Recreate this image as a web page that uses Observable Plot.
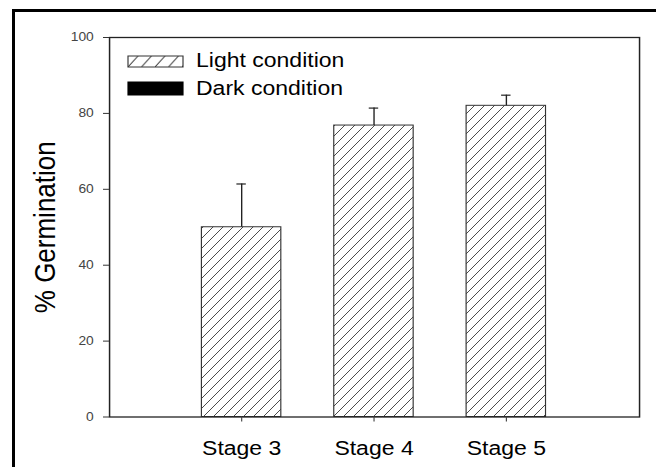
<!DOCTYPE html>
<html>
<head>
<meta charset="utf-8">
<script src="https://cdn.jsdelivr.net/npm/d3@7"></script>
<script src="https://cdn.jsdelivr.net/npm/@observablehq/plot@0.6"></script>
<style>
  body { margin: 0; background: #fff; }
  #wrap { position: relative; width: 656px; height: 467px; overflow: hidden; font-family: "Liberation Sans", Arial, sans-serif; }
  #wrap svg { display: block; }
  #border { position: absolute; left: 12px; top: 9px; width: 700px; height: 500px; border-left: 3px solid #000; border-top: 3px solid #000; pointer-events: none; }
</style>
</head>
<body>
<div id="wrap"><div id="border"></div></div>
<script>
// ---- data ----
const stages = ["Stage 3", "Stage 4", "Stage 5"];
const lightMean = [50.0, 76.8, 82.0];
const lightErr = [11.4, 4.6, 2.8];
const legendLabels = ["Light condition", "Dark condition"];
const yTicks = [0, 20, 40, 60, 80, 100];
const yLabel = "% Germination";

// ---- layout (drawn at a narrower width, then stretched horizontally like the source image) ----
const W0 = 570, H = 467, WOUT = 656;
const S = WOUT / W0;

const data = stages.map((s, i) => ({
  stage: s, mean: lightMean[i], err: lightErr[i], top: lightMean[i] + lightErr[i]
}));

const chart = Plot.plot({
  width: W0,
  height: H,
  marginLeft: 94.7,
  marginRight: 14.8,
  marginTop: 37,
  marginBottom: 50.5,
  style: { fontFamily: "'Liberation Sans', Arial, sans-serif", background: "white", color: "#000" },
  x: { domain: stages, paddingInner: 0.396, paddingOuter: 0.70, label: null },
  y: { domain: [0, 100], ticks: yTicks, label: null },
  marks: [
    Plot.barY(data, { x: "stage", y: "mean", fill: "url(#hatch)", stroke: "#333", strokeWidth: 1 }),
    Plot.ruleX(data, { x: "stage", y1: "mean", y2: "top", stroke: "#222", strokeWidth: 1.2 }),
    Plot.tickY(data, { x: "stage", y: "top", insetLeft: 30.4, insetRight: 30.4, stroke: "#222", strokeWidth: 1.2 }),
    Plot.frame({ stroke: "#222", strokeWidth: 1.3 }),
    Plot.axisY({ ticks: yTicks, tickSize: 5.2, tickPadding: 8.5, fontSize: 12, fill: "#444", stroke: "#333", label: null }),
    Plot.axisX({ tickSize: 5, tickPadding: 19, fontSize: 20, fill: "#000", stroke: "#444", label: null }),
    Plot.text([yLabel], { text: d => d, frameAnchor: "left", textAnchor: "middle", lineAnchor: "middle", dx: -55.6, rotate: -90, fontSize: 26, fill: "#000" })
  ]
});

const svg = d3.select(chart);
svg.attr("width", WOUT).attr("preserveAspectRatio", "none");

const defs = svg.insert("defs", ":first-child");
const pw = 10 / S, ph = 10;
defs.append("pattern")
  .attr("id", "hatch").attr("patternUnits", "userSpaceOnUse")
  .attr("width", pw).attr("height", ph)
  .append("path")
  .attr("d", `M0,${ph}L${pw},0M${-pw/4},${ph/4}L${pw/4},${-ph/4}M${3*pw/4},${5*ph/4}L${5*pw/4},${3*ph/4}`)
  .attr("stroke", "#3a3a3a").attr("stroke-width", 0.85).attr("fill", "none");

// ---- legend ----
const lgX = 128 / S, lgW = 55 / S, lgTextX = 196 / S;
const rowY = [56, 82], rowH = [11, 13], textY = [67.5, 95.5];
defs.append("pattern")
  .attr("id", "hatchLegend").attr("patternUnits", "userSpaceOnUse")
  .attr("x", lgX).attr("y", rowY[0])
  .attr("width", 13.5 / S).attr("height", rowH[0])
  .append("path")
  .attr("d", `M0,${rowH[0]}L${10 / S},0`)
  .attr("stroke", "#3a3a3a").attr("stroke-width", 0.9).attr("fill", "none");

const lg = svg.append("g").attr("class", "legend").attr("text-anchor", "start");
legendLabels.forEach((lab, i) => {
  lg.append("rect")
    .attr("x", lgX).attr("y", rowY[i]).attr("width", lgW).attr("height", rowH[i])
    .attr("fill", i === 0 ? "url(#hatchLegend)" : "#000")
    .attr("stroke", i === 0 ? "#333" : "#000").attr("stroke-width", 1);
  lg.append("text")
    .attr("x", lgTextX).attr("y", textY[i])
    .attr("text-anchor", "start")
    .attr("font-size", 20).attr("fill", "#000")
    .attr("font-family", "'Liberation Sans', Arial, sans-serif")
    .text(lab);
});

document.getElementById("wrap").insertBefore(chart, document.getElementById("border"));
</script>
</body>
</html>
